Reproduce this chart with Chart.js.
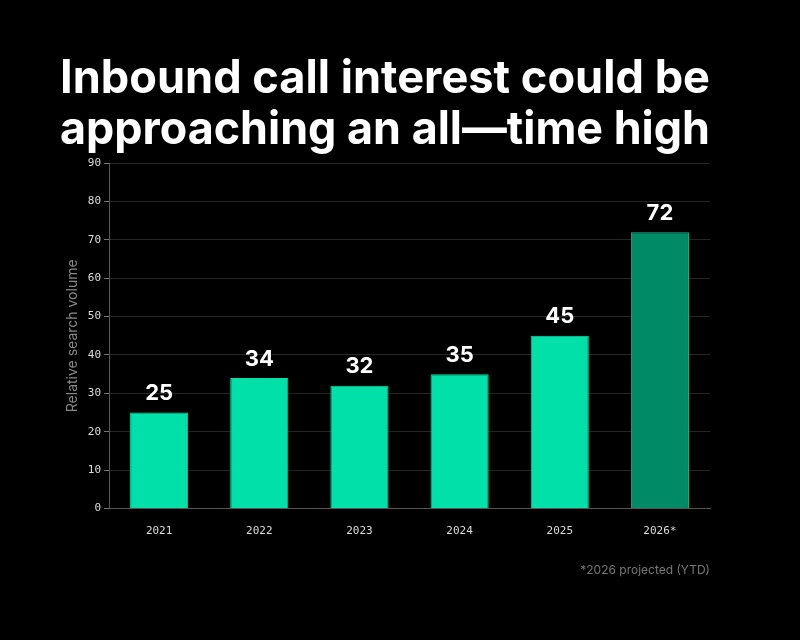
<!DOCTYPE html>
<html><head><meta charset="utf-8">
<script src="https://cdn.jsdelivr.net/npm/chart.js@4"></script>
<style>html,body{margin:0;padding:0;background:#000;}#w{width:800px;height:640px;}</style>
</head><body><div id="w"><canvas id="c"></canvas></div>
<script>
const categories = ["2021","2022","2023","2024","2025","2026*"];
const values = [25,34,32,35,45,72];
const titleLines = ["Inbound call interest could be","approaching an all\u2014time high"];
const footnote = "*2026 projected (YTD)";
const yTicks = {min:0,max:90,step:10};

const labelPlugin = {
  id:'labels',
  afterDatasetsDraw(chart){
    const ctx=chart.ctx; const meta=chart.getDatasetMeta(0);
    ctx.save(); ctx.fillStyle='#fff'; ctx.font='bold 22px Inter, sans-serif';
    ctx.textAlign='center'; ctx.textBaseline='bottom';
    meta.data.forEach((b,i)=>ctx.fillText(String(values[i]), b.x, b.y-8));
    ctx.restore();
  }
};
new Chart(document.getElementById('c'),{
  type:'bar',
  data:{labels:categories,datasets:[{data:values,
    backgroundColor:values.map((v,i)=>i===5?'#008a66':'#00e0a8'),
    borderColor:values.map((v,i)=>i===5?'#1fb58a':'#00e0a8'),
    borderWidth:1, barPercentage:0.58, categoryPercentage:1}]},
  options:{responsive:true,maintainAspectRatio:false,animation:false,
    layout:{padding:{left:60,right:90,top:0,bottom:0}},
    plugins:{legend:{display:false},tooltip:{enabled:false},
      title:{display:true,text:titleLines,color:'#fff',font:{family:'Inter, sans-serif',size:46,weight:'bold',lineHeight:1.1},padding:{top:54,bottom:8}},
      subtitle:{display:true,position:'bottom',align:'end',text:footnote,color:'#777',font:{family:'Inter, sans-serif',size:12},padding:{top:18,bottom:62}}
    },
    scales:{
      x:{grid:{display:false,drawTicks:true},border:{color:'#555'},ticks:{padding:8,color:'#ddd',font:{family:'DejaVu Sans Mono, monospace',size:11}}},
      y:{min:yTicks.min,max:yTicks.max,ticks:{stepSize:yTicks.step,color:'#ddd',font:{family:'DejaVu Sans Mono, monospace',size:11}},
        grid:{color:'#262626',tickColor:'#777',tickLength:5},border:{color:'#555'},
        title:{display:true,text:'Relative search volume',color:'#888',font:{family:'Inter, sans-serif',size:14}}}
    }
  },
  plugins:[labelPlugin]
});
</script></body></html>
